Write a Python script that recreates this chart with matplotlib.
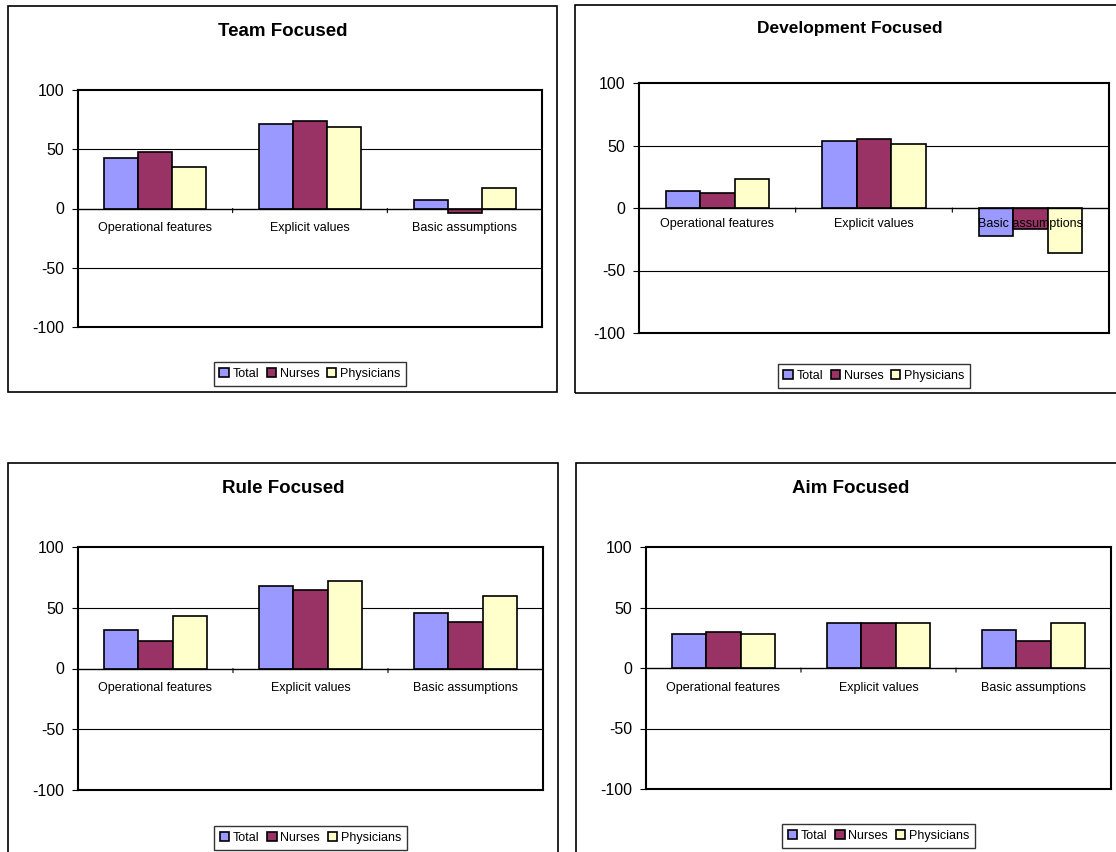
import numpy as np
import matplotlib.pyplot as plt
from matplotlib.patches import Rectangle

plt.rcParams['font.family'] = ['Liberation Sans', 'DejaVu Sans']
plt.rcParams['axes.unicode_minus'] = False

categories = ["Operational features", "Explicit values", "Basic assumptions"]
series_names = ["Total", "Nurses", "Physicians"]
colors = ["#9999FF", "#993366", "#FFFFCC"]

team = {
    "Total": [43, 71, 7],
    "Nurses": [48, 74, -4],
    "Physicians": [35, 69, 17],
}
development = {
    "Total": [14, 54, -22],
    "Nurses": [12, 55, -17],
    "Physicians": [23, 51, -36],
}
rule = {
    "Total": [32, 68, 46],
    "Nurses": [23, 65, 38],
    "Physicians": [43, 72, 60],
}
aim = {
    "Total": [28, 37, 31],
    "Nurses": [30, 37, 22],
    "Physicians": [28, 37, 37],
}

W, H = 1116, 852
fig = plt.figure(figsize=(W / 100, H / 100), dpi=100)


def px(x0, y0, x1, y1):
    # pixel box (top-left origin) -> figure fraction rect
    return [x0 / W, 1 - y1 / H, (x1 - x0) / W, (y1 - y0) / H]


panels = [
    # title, data, axes box, border box, title y, title size, label offset, legend y
    ("Team Focused", team, (78, 90, 542, 327), (8, 6, 557, 392), 31, 13.5, -10, -0.198),
    ("Development Focused", development, (639, 83, 1109, 333), (575, 5, 1125, 393), 28, 12.5, -7, -0.172),
    ("Rule Focused", rule, (78, 547, 543, 790), (8, 463, 558, 870), 488, 13.5, -10, -0.198),
    ("Aim Focused", aim, (646, 547, 1111, 789), (576, 463, 1125, 870), 488, 13.5, -10, -0.194),
]

bar_w = 0.22
x = np.arange(len(categories))

for title, data, abox, bbox, ty, tsize, loff, legy in panels:
    # outer chart border
    bx = px(*bbox)
    fig.patches.append(Rectangle((bx[0], bx[1]), bx[2], bx[3], transform=fig.transFigure,
                                 fill=False, edgecolor="black", linewidth=1.2, zorder=0))
    fig.text((bbox[0] + bbox[2]) / 2 / W, 1 - ty / H, title, ha="center", va="center",
             fontsize=tsize, fontweight="bold")

    ax = fig.add_axes(px(*abox))
    for k, name in enumerate(series_names):
        ax.bar(x + (k - 1) * bar_w, data[name], bar_w, color=colors[k],
               edgecolor="black", linewidth=1.2, label=name, zorder=2)

    ax.set_xlim(-0.5, len(categories) - 0.5)
    ax.set_ylim(-100, 100)
    ax.set_yticks([-100, -50, 0, 50, 100])
    ax.tick_params(axis="y", labelsize=11.5, length=4, width=0.8, pad=6)
    ax.set_xticks([])
    for y in (-50, 50):
        ax.axhline(y, color="black", linewidth=0.8, zorder=1)
    ax.axhline(0, color="black", linewidth=1.0, zorder=3)
    for s in ax.spines.values():
        s.set_linewidth(1.5)

    # category boundary ticks on the zero line
    for b in x[:-1] + 0.5:
        ax.annotate("", xy=(b, 0), xytext=(0, -3), textcoords="offset points",
                    arrowprops=dict(arrowstyle="-", linewidth=0.8, color="black",
                                    shrinkA=0, shrinkB=0))
    for i, c in enumerate(categories):
        ax.annotate(c, (x[i], 0), xytext=(0, loff), textcoords="offset points",
                    ha="center", va="top", fontsize=9, zorder=4)

    leg = ax.legend(loc="center", bbox_to_anchor=(0.5, legy), ncol=3, fontsize=9,
                    frameon=True, fancybox=False, shadow=False, handlelength=0.75,
                    handleheight=0.75, handletextpad=0.3, columnspacing=0.6,
                    borderpad=0.45, borderaxespad=0)
    leg.get_frame().set_edgecolor("black")
    leg.get_frame().set_linewidth(1.0)

fig.savefig("out.png", dpi=100)
